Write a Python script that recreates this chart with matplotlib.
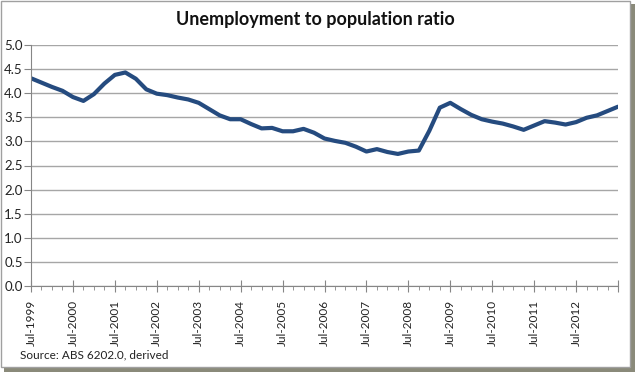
import matplotlib
matplotlib.use("Agg")
import matplotlib.pyplot as plt
from matplotlib.patches import Rectangle
from matplotlib.ticker import FixedLocator, MultipleLocator
import numpy as np

# quarterly readings, Jul-1999 .. Jul-2013
start_year = 1999.5
ratio = [
    4.31, 4.22, 4.13, 4.05, 3.92, 3.84, 3.98, 4.20, 4.38, 4.43,
    4.30, 4.08, 3.99, 3.96, 3.91, 3.87, 3.80, 3.67, 3.54, 3.46,
    3.46, 3.36, 3.27, 3.28, 3.21, 3.21, 3.26, 3.18, 3.06, 3.01,
    2.97, 2.89, 2.79, 2.84, 2.78, 2.74, 2.79, 2.81, 3.22, 3.70,
    3.80, 3.67, 3.55, 3.46, 3.41, 3.37, 3.31, 3.24, 3.33, 3.42,
    3.39, 3.35, 3.40, 3.49, 3.54, 3.63, 3.72,
]
y_ticks = [0.0, 0.5, 1.0, 1.5, 2.0, 2.5, 3.0, 3.5, 4.0, 4.5, 5.0]
tick_years = list(range(1999, 2014))
tick_labels = ["Jul-%d" % y for y in tick_years[:-1]] + [""]

dates = start_year + np.arange(len(ratio)) * 0.25

W, H = 635, 372
fig = plt.figure(figsize=(W / 100, H / 100), dpi=100)
plt.rcParams["font.family"] = ["Lato", "DejaVu Sans"]

# frame with drop shadow
fig.patches.append(Rectangle((4 / W, 0), 1 - 4 / W, 1 - 4 / H, transform=fig.transFigure,
                             facecolor="#8a8a7a", edgecolor="none", zorder=-3))
fig.patches.append(Rectangle((0.5 / W, 5 / H), 629 / W, 1 - 5.5 / H, transform=fig.transFigure,
                             facecolor="white", edgecolor="#a0a0a0", lw=1.0, zorder=-2))

ax = fig.add_axes([31 / W, 1 - 286 / H, 587 / W, 241 / H])
ax.patch.set_alpha(0)
ax.plot(dates, ratio, color="#254b7f", lw=3.0, solid_capstyle="round", solid_joinstyle="round")

ax.set_xlim(1999.5, 2013.5)
ax.set_ylim(0, 5)
ax.yaxis.set_major_locator(FixedLocator(y_ticks))
ax.set_yticklabels(["%.1f" % v for v in y_ticks])
ax.grid(axis="y", color="#a6a6a6", lw=1.0)
ax.set_axisbelow(True)

ax.xaxis.set_major_locator(FixedLocator([y + 0.5 for y in tick_years]))
ax.set_xticklabels(tick_labels, rotation=90)
ax.xaxis.set_minor_locator(MultipleLocator(0.25))

for s in ["top", "right"]:
    ax.spines[s].set_visible(False)
for s in ["left", "bottom"]:
    ax.spines[s].set_color("#868686")
ax.tick_params(axis="y", length=5, color="#868686", labelsize=9.5, pad=1, labelcolor="#222222")
ax.tick_params(axis="x", which="major", direction="inout", length=8, color="#868686",
               labelsize=8.5, pad=6, labelcolor="#222222")
ax.tick_params(axis="x", which="minor", direction="out", length=3, color="#868686")

fig.text(315 / W, 1 - 20 / H, "Unemployment to population ratio", ha="center", va="center",
         fontsize=13, fontweight="bold", color="#111111")
fig.text(20 / W, 1 - 355 / H, "Source: ABS 6202.0, derived", ha="left", va="center",
         fontsize=8.5, color="#222222")

fig.savefig("out.png", dpi=100)
